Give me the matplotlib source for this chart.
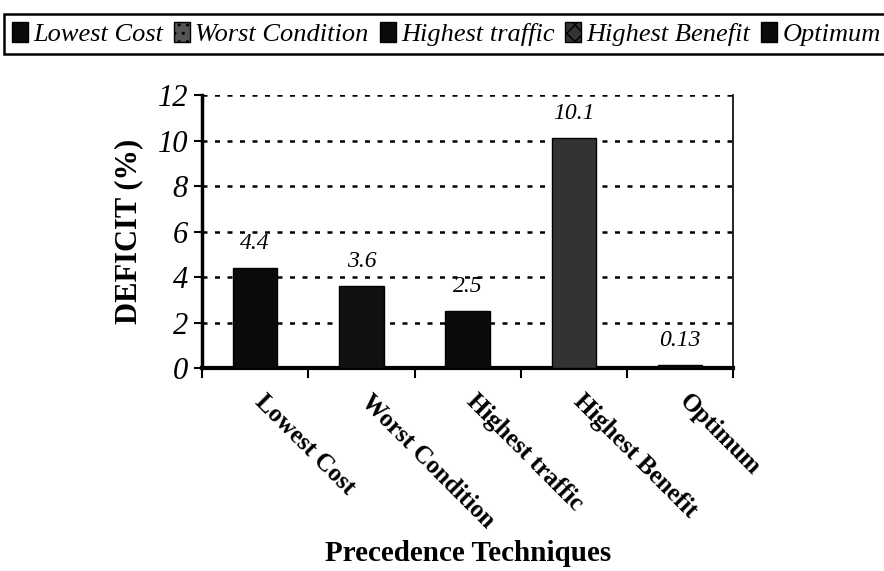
import matplotlib.pyplot as plt
import matplotlib.transforms as mtransforms
from matplotlib.patches import Rectangle
import numpy as np

plt.rcParams['font.family'] = ['Liberation Serif', 'DejaVu Serif']

# data
techniques = ["Lowest Cost", "Worst Condition", "Highest traffic", "Highest Benefit", "Optimum"]
deficit = [4.4, 3.6, 2.5, 10.1, 0.13]
value_labels = ["4.4", "3.6", "2.5", "10.1", "0.13"]
yticks = [0, 2, 4, 6, 8, 10, 12]

bar_colors = ["#0b0b0b", "#111111", "#0b0b0b", "#333333", "#0b0b0b"]

fig = plt.figure(figsize=(8.84, 5.71), dpi=100)
ax = fig.add_axes([0.2285, 0.3555, 0.601, 0.478])

x = np.arange(len(techniques))
ax.bar(x, deficit, width=0.42, color=bar_colors, edgecolor="black", linewidth=1, zorder=3)

for xi, v, lab in zip(x, deficit, value_labels):
    ax.annotate(lab, (xi, v), xytext=(0, 10), textcoords="offset points",
                ha="center", va="bottom", fontsize=17, style="italic")

ax.set_xlim(-0.5, len(techniques) - 0.5)
ax.set_ylim(0, 12)
ax.set_yticks(yticks)
ax.set_yticklabels([str(t) for t in yticks], fontsize=22, style="italic")

# dotted gridlines
for t in yticks[1:]:
    ax.axhline(t, color="black", linestyle=(0, (2, 3)), linewidth=1.8, zorder=1)

# x ticks: labels at centers, tick marks at boundaries
ax.set_xticks(x)
ax.set_xticklabels(techniques, rotation=-45, ha="left", va="top",
                   rotation_mode="anchor", fontsize=18, fontweight="bold")
ax.tick_params(axis="x", which="major", length=0, pad=16)
shift = mtransforms.ScaledTranslation(8 / 72, 0, fig.dpi_scale_trans)
for lbl in ax.get_xticklabels():
    lbl.set_transform(lbl.get_transform() + shift)
ax.set_xticks(np.arange(len(techniques) + 1) - 0.5, minor=True)
ax.tick_params(axis="x", which="minor", length=7, width=1.5, direction="out")
ax.tick_params(axis="y", length=6, width=1.5, direction="out", pad=4)

ax.spines["left"].set_linewidth(2.5)
ax.spines["bottom"].set_linewidth(3)
ax.spines["right"].set_linewidth(1.2)
ax.spines["top"].set_visible(False)

ax.set_ylabel("DEFICIT (%)", fontsize=22, fontweight="bold", labelpad=10)
ax.set_xlabel("Precedence Techniques", fontsize=21, fontweight="bold")
ax.xaxis.set_label_coords(0.5, -0.63)

# legend across the top
handles = [Rectangle((0, 0), 1, 1, facecolor=c, edgecolor="black") for c in bar_colors]
handles[1].set_hatch("..")
handles[1].set_facecolor("#555555")
handles[3].set_hatch("xx")
leg = fig.legend(handles, techniques, loc="lower left", ncol=5,
                 bbox_to_anchor=(0.005, 0.905, 1.0, 0.08), mode="expand",
                 prop={"family": "Liberation Serif", "style": "italic", "size": 19},
                 handlelength=0.6, handleheight=0.8, handletextpad=0.2,
                 columnspacing=0.4, borderaxespad=0, borderpad=0.3, fancybox=False,
                 edgecolor="black", framealpha=1)
leg.get_frame().set_linewidth(1.8)

fig.savefig("out.png", dpi=100)
